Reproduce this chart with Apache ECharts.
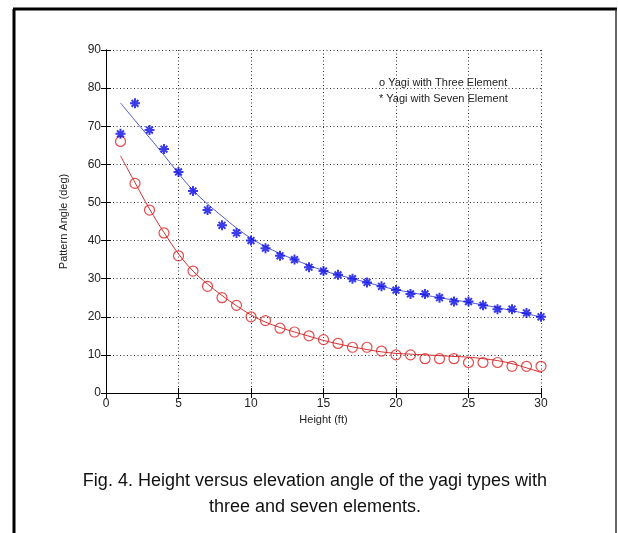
<!DOCTYPE html>
<html>
<head>
<meta charset="utf-8">
<script src="https://cdn.jsdelivr.net/npm/echarts@6/dist/echarts.min.js"></script>
<style>
  html, body { margin: 0; padding: 0; background: #fff; }
  #chart { width: 618px; height: 533px; }
</style>
</head>
<body>
<div id="chart"></div>
<script>
// heights (ft)
const heights = [1, 2, 3, 4, 5, 6, 7, 8, 9, 10, 11, 12, 13, 14, 15,
  16, 17, 18, 19, 20, 21, 22, 23, 24, 25, 26, 27, 28, 29, 30];
// measured pattern angle (deg)
const threeElement = [66, 55, 48, 42, 36, 32, 28, 25, 23, 20, 19, 17, 16, 15, 14,
  13, 12, 12, 11, 10, 10, 9, 9, 9, 8, 8, 8, 7, 7, 7];
const sevenElement = [68, 76, 69, 64, 58, 53, 48, 44, 42, 40, 38, 36, 35, 33, 32,
  31, 30, 29, 28, 27, 26, 26, 25, 24, 24, 23, 22, 22, 21, 20];
// fitted curves
const threeFit = [62.2, 55.2, 48.3, 42.1, 36.5, 32.0, 28.6, 25.6, 22.9, 20.5, 18.6, 17.2, 16.0, 14.9, 13.8,
  12.9, 12.1, 11.4, 10.8, 10.4, 10.2, 10.0, 9.8, 9.6, 9.4, 9.0, 8.5, 7.7, 6.6, 5.4];
const sevenFit = [76.1, 71.5, 67.0, 62.4, 57.6, 53.2, 49.6, 46.4, 43.3, 40.6, 38.4, 36.6, 35.0, 33.5, 32.1,
  31.0, 30.0, 29.0, 28.0, 27.1, 26.4, 25.7, 25.0, 24.4, 23.8, 23.1, 22.4, 21.6, 20.8, 19.9];

const xTicks = [0, 5, 10, 15, 20, 25, 30];
const yTicks = [0, 10, 20, 30, 40, 50, 60, 70, 80, 90];

const pairs = (ys) => heights.map((h, i) => [h, ys[i]]);

const font = '"Liberation Sans", Arial, sans-serif';
const star = 'path://M5,0L5,10M0,5L10,5M1.6,1.6L8.4,8.4M1.6,8.4L8.4,1.6';

const chart = echarts.init(document.getElementById('chart'), null, { renderer: 'canvas' });

const gridLine = { show: true, lineStyle: { color: '#333', type: [1, 2.5], width: 1 } };
const hiddenAxis = {
  axisLine: { show: true, lineStyle: { color: '#000', width: 1 } },
  axisTick: { show: true, inside: true, length: 5, lineStyle: { color: '#000' } },
  axisLabel: { show: false },
  splitLine: { show: false }
};

const option = {
  backgroundColor: '#fff',
  animation: false,
  grid: { left: 106, right: 77, top: 50, bottom: 140 },
  xAxis: [
    {
      type: 'value', min: 0, max: 30, interval: 5,
      name: 'Height (ft)', nameLocation: 'middle', nameGap: 20,
      nameTextStyle: { fontFamily: font, fontSize: 11, color: '#222' },
      axisLine: { show: true, lineStyle: { color: '#000', width: 1 } },
      axisTick: { show: true, inside: true, length: 5, lineStyle: { color: '#000' } },
      axisLabel: { fontFamily: font, fontSize: 12, color: '#222', margin: 5,
        formatter: (v) => xTicks.includes(v) ? String(v) : '' },
      splitLine: gridLine
    },
    Object.assign({ type: 'value', min: 0, max: 30, interval: 5, position: 'top' }, hiddenAxis)
  ],
  yAxis: [
    {
      type: 'value', min: 0, max: 90, interval: 10,
      name: 'Pattern Angle (deg)', nameLocation: 'middle', nameGap: 37,
      nameTextStyle: { fontFamily: font, fontSize: 11, color: '#222' },
      axisLine: { show: true, lineStyle: { color: '#000', width: 1 } },
      axisTick: { show: true, inside: true, length: 5, lineStyle: { color: '#000' } },
      axisLabel: { fontFamily: font, fontSize: 12, color: '#222', margin: 5,
        formatter: (v) => yTicks.includes(v) ? String(v) : '' },
      splitLine: gridLine
    },
    Object.assign({ type: 'value', min: 0, max: 90, interval: 10, position: 'right' }, hiddenAxis)
  ],
  series: [
    {
      name: 'fit3', type: 'line', data: pairs(threeFit), smooth: 0.4,
      showSymbol: false, lineStyle: { color: '#d03030', width: 1 }, z: 2
    },
    {
      name: 'fit7', type: 'line', data: pairs(sevenFit), smooth: 0.4,
      showSymbol: false, lineStyle: { color: '#4a5ad0', width: 1 }, z: 2
    },
    {
      name: 'Yagi with Three Element', type: 'scatter', data: pairs(threeElement),
      symbol: 'circle', symbolSize: 10,
      itemStyle: { color: 'rgba(0,0,0,0)', borderColor: '#dd2020', borderWidth: 1.2 }, z: 3
    },
    {
      name: 'Yagi with Seven Element', type: 'scatter', data: pairs(sevenElement),
      symbol: star, symbolSize: 10,
      itemStyle: { color: 'rgba(0,0,0,0)', borderColor: '#0a0ae6', borderWidth: 2 }, z: 3
    }
  ],
  graphic: [
    { type: 'line', shape: { x1: 14, y1: 9, x2: 14, y2: 540 }, style: { stroke: '#000', lineWidth: 3 } },
    { type: 'line', shape: { x1: 13, y1: 9, x2: 617, y2: 9 }, style: { stroke: '#000', lineWidth: 3 } },
    { type: 'line', shape: { x1: 616, y1: 9, x2: 616, y2: 540 }, style: { stroke: '#333', lineWidth: 1.5 } },
    { type: 'text', left: 379, top: 77, style: { text: 'o Yagi with Three Element',
      font: '11px ' + font, fill: '#222' } },
    { type: 'text', left: 379, top: 93, style: { text: '* Yagi with Seven Element',
      font: '11px ' + font, fill: '#222' } },
    { type: 'text', x: 315, y: 481, style: {
      text: 'Fig. 4. Height versus elevation angle of the yagi types with',
      font: '18px ' + font, fill: '#111', align: 'center', verticalAlign: 'middle' } },
    { type: 'text', x: 315, y: 507, style: {
      text: 'three and seven elements.',
      font: '18px ' + font, fill: '#111', align: 'center', verticalAlign: 'middle' } }
  ]
};

chart.setOption(option);
</script>
</body>
</html>
